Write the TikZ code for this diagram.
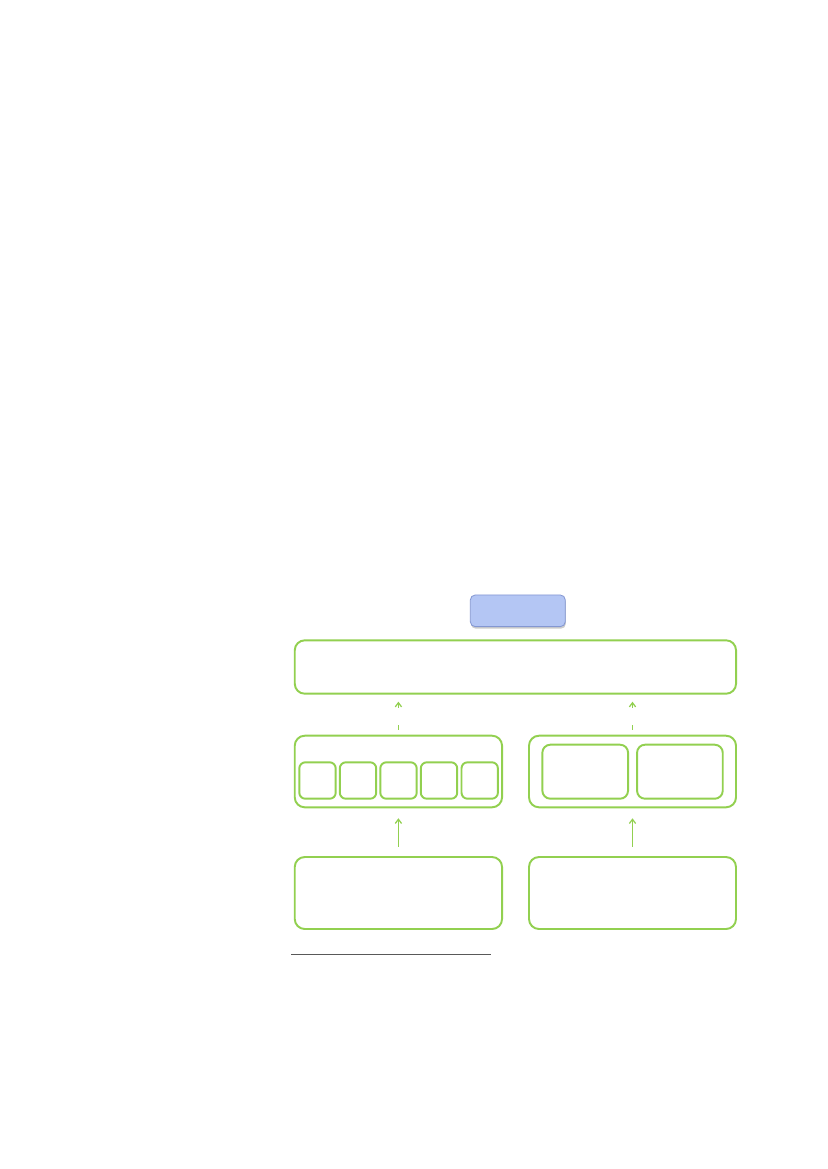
\documentclass[tikz,border=0pt]{standalone}
\usepackage[dvipsnames]{xcolor}
\usepackage{tikz}
\usetikzlibrary{arrows.meta,shadows}
\definecolor{green-box}{HTML}{92D050}
\definecolor{blue-fill}{HTML}{B4C6F4}
\definecolor{blue-line}{HTML}{8497D2}
\def\px{0.72pt}

\begin{document}
\begin{tikzpicture}[x=\px,y=-\px,
		box/.style={draw=green-box,line width=1.4pt,rounded corners=10*\px,inner sep=0pt},
		cell/.style={box,rounded corners=6*\px,minimum width=36.4*\px,minimum height=36.4*\px},
		flow/.style={draw=green-box,line width=0.9pt,-{Straight Barb[length=3pt,width=4.5pt]}}]
				\useasboundingbox (0,0) rectangle (827,1169);
				\node [draw=blue-line,fill=blue-fill,rounded corners=5*\px,line width=0.6pt,
					minimum width=95*\px,minimum height=31.7*\px,
					drop shadow={opacity=0.4,shadow xshift=0.4pt,shadow yshift=-1.5pt}] (head) at (517.8,610.8) {};
				\node [box,minimum width=441.3*\px,minimum height=53.4*\px] (wide) at (515.4,667) {};
				\node [box,minimum width=207.3*\px,minimum height=71.6*\px] (midL) at (398.4,771.5) {};
				\node [box,minimum width=207*\px,minimum height=71.6*\px] (midR) at (632.5,771.5) {};
				\node [box,minimum width=207.3*\px,minimum height=72*\px] (botL) at (398.4,893) {};
				\node [box,minimum width=207*\px,minimum height=72*\px] (botR) at (632.5,893) {};
				
				\foreach [count=\i] \x in {317.5,358,398.5,439,479.7}
					{\node [cell] (c\i) at (\x,780.5) {};}
				\foreach [count=\i] \x in {585.2,679.9}
					{\node [box,rounded corners=8*\px,minimum width=85.7*\px,minimum height=54*\px] (p\i) at (\x,771.7) {};}
				
				\draw [flow,shorten <=9.3*\px,shorten >=10*\px] (botL) -- (midL);
				\draw [flow,shorten <=9.3*\px,shorten >=10*\px] (botR.north) -- (midR.south);
				\draw [flow,dash pattern=on 5*\px off 17*\px,shorten <=5*\px,shorten >=7*\px] (midL) -- (midL|-wide.south);
				\draw [flow,dash pattern=on 5*\px off 17*\px,shorten <=5*\px,shorten >=7*\px] (midR) -- (midR|-wide.south);
				
				\draw [black!65,line width=0.5pt] (291.3,954) -- (491.3,954);
		\end{tikzpicture}
\end{document}
